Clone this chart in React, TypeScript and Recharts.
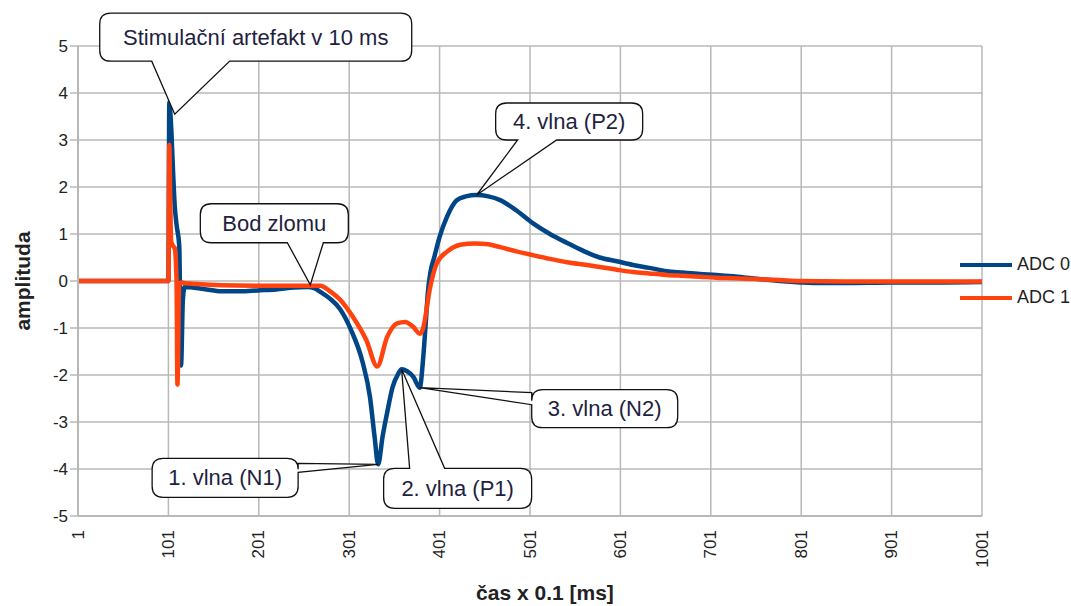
import {
  LineChart,
  Line,
  XAxis,
  YAxis,
  CartesianGrid,
  Legend,
  ReferenceDot,
} from "recharts";

const xTicks = [1, 101, 201, 301, 401, 501, 601, 701, 801, 901, 1001];
const yTicks = [-5, -4, -3, -2, -1, 0, 1, 2, 3, 4, 5];

// ADC 0 (blue) – samples
const adc0Time = [
  1, 50, 101, 102, 104, 106, 108, 110, 113, 115, 117, 119, 140, 160, 180, 200,
  220, 240, 255, 262, 269, 280, 291, 303, 316, 324, 329, 333, 338, 343, 349,
  355, 359, 365, 372, 379, 383, 386, 388, 391, 395, 401, 409, 420, 430, 442,
  455, 468, 486, 504, 523, 542, 560, 578, 597, 615, 633, 652, 670, 689, 707,
  726, 741, 760, 777, 800, 814, 851, 900, 950, 1001,
];
const adc0Value = [
  0, 0, 0, 3.8, 3.3, 2.4, 1.6, 1.2, 0.75, -1.8, -0.4, -0.13, -0.17, -0.22,
  -0.22, -0.2, -0.18, -0.14, -0.13, -0.15, -0.23, -0.38, -0.6, -1.04, -1.74,
  -2.47, -3.3, -3.9, -3.3, -2.8, -2.26, -1.98, -1.88, -1.92, -2.04, -2.27, -1.6,
  -0.8, -0.25, 0.2, 0.5, 0.94, 1.36, 1.72, 1.8, 1.83, 1.8, 1.72, 1.5, 1.23,
  1.0, 0.81, 0.64, 0.5, 0.42, 0.34, 0.28, 0.21, 0.18, 0.15, 0.13, 0.1, 0.07,
  0.03, 0.0, -0.03, -0.04, -0.04, -0.03, -0.03, -0.02,
];

// ADC 1 (orange)
const adc1Time = [
  1, 50, 101, 102, 103, 104, 106, 108, 110, 111, 113, 116, 120, 160, 200, 240,
  258, 269, 280, 291, 305, 320, 332, 343, 354, 363, 372, 379, 382, 385, 387,
  390, 394, 398, 409, 424, 440, 455, 468, 486, 504, 523, 542, 560, 578, 597,
  615, 633, 652, 670, 689, 707, 726, 750, 777, 800, 850, 900, 1001,
];
const adc1Value = [
  0, 0, 0, 2.9, 1.8, 0.85, 0.75, 0.7, 0.0, -2.2, -0.05, -0.03, -0.05, -0.09,
  -0.1, -0.1, -0.1, -0.1, -0.22, -0.4, -0.76, -1.26, -1.82, -1.19, -0.9, -0.87,
  -0.98, -1.12, -1.05, -0.8, -0.55, -0.19, 0.15, 0.38, 0.62, 0.77, 0.8, 0.78,
  0.72, 0.63, 0.55, 0.47, 0.4, 0.35, 0.3, 0.24, 0.19, 0.16, 0.13, 0.11, 0.09,
  0.07, 0.06, 0.04, 0.02, 0.0, -0.01, -0.01, -0.01,
];

const adc0Data = adc0Time.map((t, i) => ({ t, v: adc0Value[i] }));
const adc1Data = adc1Time.map((t, i) => ({ t, v: adc1Value[i] }));

const BLUE = "#004586";
const ORANGE = "#ff420e";
const GRID = "#b8b8b8";
const TEXT = "#222";
const FONT = "'Liberation Sans', Arial, sans-serif";

type Side = "top" | "bottom" | "left" | "right";
type Callout = {
  text: string;
  t: number;
  v: number;
  box: [number, number, number, number]; // dx, dy, w, h relative to tip
  side: Side;
  base: [number, number]; // pointer base, relative to tip along the side
};

const callouts: Callout[] = [
  { text: "Stimulační artefakt v 10 ms", t: 108, v: 3.55, box: [-75, -101, 312, 48], side: "bottom", base: [-23, 55] },
  { text: "Bod zlomu", t: 258, v: -0.08, box: [-110, -81, 148, 39], side: "bottom", base: [-23, 13] },
  { text: "4. vlna (P2)", t: 442, v: 1.83, box: [19, -92, 147, 37], side: "bottom", base: [41, 80] },
  { text: "3. vlna (N2)", t: 379, v: -2.27, box: [112, 2, 146, 38], side: "left", base: [5, 17] },
  { text: "2. vlna (P1)", t: 359, v: -1.88, box: [-18, 99, 148, 40], side: "top", base: [8, 43] },
  { text: "1. vlna (N1)", t: 333, v: -3.9, box: [-226, -6, 146, 39], side: "right", base: [-1, 8] },
];

function calloutPath(cx: number, cy: number, c: Callout) {
  const [dx, dy, w, h] = c.box;
  const x = cx + dx;
  const y = cy + dy;
  const r = 11;
  const [a, b] = c.base;
  const tip = `L${cx},${cy}`;
  let d = `M${x + r},${y}`;
  if (c.side === "top") d += ` L${cx + a},${y} ${tip} L${cx + b},${y}`;
  d += ` L${x + w - r},${y} Q${x + w},${y} ${x + w},${y + r}`;
  if (c.side === "right") d += ` L${x + w},${cy + a} ${tip} L${x + w},${cy + b}`;
  d += ` L${x + w},${y + h - r} Q${x + w},${y + h} ${x + w - r},${y + h}`;
  if (c.side === "bottom") d += ` L${cx + b},${y + h} ${tip} L${cx + a},${y + h}`;
  d += ` L${x + r},${y + h} Q${x},${y + h} ${x},${y + h - r}`;
  if (c.side === "left") d += ` L${x},${cy + b} ${tip} L${x},${cy + a}`;
  d += ` L${x},${y + r} Q${x},${y} ${x + r},${y} Z`;
  return { d, x, y, w, h };
}

const CalloutShape = (c: Callout) => (props: any) => {
  const { cx, cy } = props;
  const { d, x, y, w, h } = calloutPath(cx, cy, c);
  return (
    <g>
      <path d={d} fill="#fff" stroke="#111" strokeWidth={1.3} />
      <text
        x={x + w / 2}
        y={y + h / 2}
        textAnchor="middle"
        dominantBaseline="central"
        fontSize={22}
        fontFamily={FONT}
        fill="#1f1f3f"
      >
        {c.text}
      </text>
    </g>
  );
};

const XTick = (props: any) => {
  const { x, y, payload } = props;
  return (
    <text
      transform={`translate(${x},${y}) rotate(-90)`}
      textAnchor="end"
      dominantBaseline="central"
      fontSize={17}
      fontFamily={FONT}
      fill={TEXT}
    >
      {payload.value}
    </text>
  );
};

const YTitle = (props: any) => {
  const { x, y, height } = props.viewBox;
  return (
    <text
      transform={`translate(${x - 16},${y + height / 2}) rotate(-90)`}
      textAnchor="middle"
      dominantBaseline="central"
      fontSize={21}
      fontWeight="bold"
      fontFamily={FONT}
      fill={TEXT}
    >
      amplituda
    </text>
  );
};

const XTitle = (props: any) => {
  const { x, y, width } = props.viewBox;
  return (
    <text
      x={x + width / 2 + 15}
      y={y + 76}
      textAnchor="middle"
      dominantBaseline="central"
      fontSize={21}
      fontWeight="bold"
      fontFamily={FONT}
      fill={TEXT}
    >
      čas x 0.1 [ms]
    </text>
  );
};

const legendItems = [
  { label: "ADC 0", color: BLUE },
  { label: "ADC 1", color: ORANGE },
];

const LegendBox = () => (
  <div style={{ fontFamily: FONT, fontSize: 18, color: TEXT }}>
    {legendItems.map((item) => (
      <div
        key={item.label}
        style={{ display: "flex", alignItems: "center", height: 33 }}
      >
        <div
          style={{ width: 52, height: 4, background: item.color, marginRight: 5 }}
        />
        <span>{item.label}</span>
      </div>
    ))}
  </div>
);

export default function App() {
  return (
    <div style={{ position: "absolute", left: 0, top: 0, background: "#fff" }}>
      <LineChart
        width={1071}
        height={606}
        margin={{ top: 46, right: 89, bottom: 30, left: 38 }}
      >
        <CartesianGrid stroke={GRID} strokeWidth={1.5} />
        <XAxis
          dataKey="t"
          type="number"
          domain={[1, 1001]}
          ticks={xTicks}
          interval={0}
          height={60}
          tickLine={false}
          tickSize={0}
          tickMargin={14}
          axisLine={{ stroke: GRID, strokeWidth: 2 }}
          tick={<XTick />}
          label={<XTitle />}
          allowDuplicatedCategory={false}
        />
        <YAxis
          type="number"
          domain={[-5, 5]}
          ticks={yTicks}
          interval={0}
          width={40}
          tickSize={8}
          tickMargin={2}
          tickLine={{ stroke: GRID, strokeWidth: 1.5 }}
          axisLine={{ stroke: GRID, strokeWidth: 2 }}
          tick={{ fontSize: 17, fill: TEXT, fontFamily: FONT }}
          label={<YTitle />}
        />
        <Legend
          layout="vertical"
          align="center"
          verticalAlign="middle"
          content={<LegendBox />}
          wrapperStyle={{ left: 960, top: 248, width: "auto" }}
        />
        <Line
          data={adc0Data}
          dataKey="v"
          name="ADC 0"
          type="monotone"
          stroke={BLUE}
          strokeWidth={4.5}
          dot={false}
          activeDot={false}
          isAnimationActive={false}
        />
        <Line
          data={adc1Data}
          dataKey="v"
          name="ADC 1"
          type="monotone"
          stroke={ORANGE}
          strokeWidth={4.5}
          dot={false}
          activeDot={false}
          isAnimationActive={false}
        />
        {callouts.map((c) => (
          <ReferenceDot
            key={c.text}
            x={c.t}
            y={c.v}
            r={0}
            shape={CalloutShape(c)}
          />
        ))}
      </LineChart>
    </div>
  );
}
